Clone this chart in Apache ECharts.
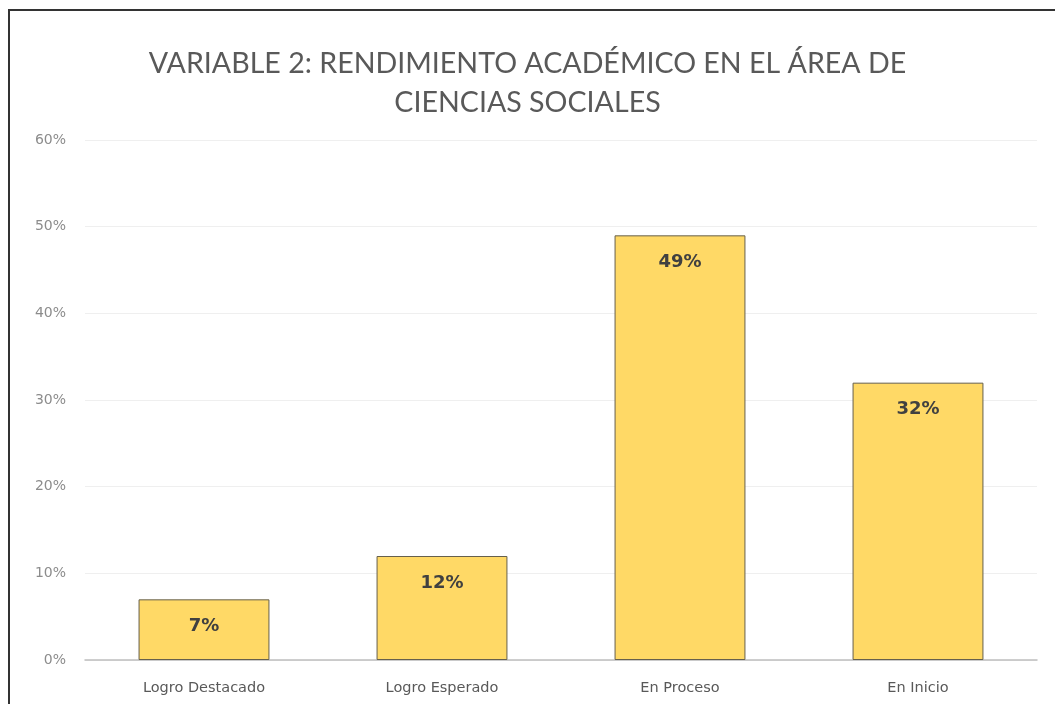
<!DOCTYPE html>
<html>
<head>
<meta charset="utf-8">
<script src="https://cdn.jsdelivr.net/npm/echarts@6/dist/echarts.min.js"></script>
<style>
  html, body { margin: 0; padding: 0; background: #fff; }
  #chart { width: 1055px; height: 704px; }
</style>
</head>
<body>
<div id="chart"></div>
<script>
var categories = ['Logro Destacado', 'Logro Esperado', 'En Proceso', 'En Inicio'];
var values = [7, 12, 49, 32];
var yTicks = { min: 0, max: 60, interval: 10 };

var chart = echarts.init(document.getElementById('chart'));
var option = {
    backgroundColor: '#fff',
    textStyle: { fontFamily: 'DejaVu Sans' },
    title: {
        text: 'VARIABLE 2: RENDIMIENTO ACADÉMICO EN EL ÁREA DE\nCIENCIAS SOCIALES',
        left: 'center',
        top: 39,
        textStyle: {
            fontFamily: 'Lato',
            fontSize: 28.6,
            fontWeight: 'normal',
            color: '#595959',
            lineHeight: 39
        }
    },
    // cadre noir autour du graphique
    graphic: [{
        type: 'rect',
        shape: { x: 9, y: 10, width: 1200, height: 900 },
        style: { fill: 'none', stroke: '#333', lineWidth: 2 },
        silent: true
    }],
    grid: { left: 85, right: 18, top: 140, bottom: 44 },
    xAxis: {
        type: 'category',
        data: categories,
        axisLine: { lineStyle: { color: '#bfbfbf', width: 1.5 } },
        axisTick: { show: false },
        axisLabel: { color: '#595959', fontSize: 14.5, margin: 21 }
    },
    yAxis: {
        type: 'value',
        min: yTicks.min,
        max: yTicks.max,
        interval: yTicks.interval,
        axisLine: { show: false },
        axisTick: { show: false },
        splitLine: { lineStyle: { color: '#efefef' } },
        axisLabel: { color: '#8c8c8c', fontSize: 14, margin: 19, formatter: '{value}%' }
    },
    series: [{
        type: 'bar',
        data: values,
        barWidth: '55%',
        itemStyle: { color: '#FFD966', borderColor: '#66604c', borderWidth: 1 },
        label: {
            show: true,
            position: 'insideTop',
            distance: 18,
            formatter: '{c}%',
            fontFamily: 'DejaVu Sans',
            fontSize: 18,
            fontWeight: 'bold',
            color: '#404040'
        }
    }]
};
chart.setOption(option);
</script>
</body>
</html>
